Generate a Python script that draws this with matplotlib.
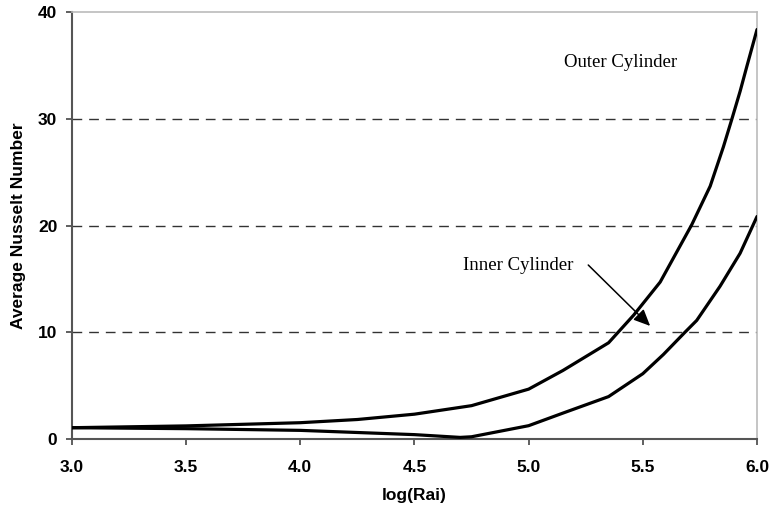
import matplotlib
matplotlib.use("Agg")
import matplotlib.pyplot as plt

# Data
outer_x = [3.0, 3.5, 4.0, 4.25, 4.5, 4.75, 5.0, 5.15, 5.35, 5.46, 5.576, 5.714,
           5.795, 5.853, 5.89, 5.926, 5.955, 6.0]
outer_y = [1.03, 1.2, 1.5, 1.8, 2.3, 3.1, 4.65, 6.4, 9.0, 11.6, 14.7, 20.07,
           23.7, 27.4, 30.0, 32.6, 34.9, 38.4]
inner_x = [3.0, 3.5, 4.0, 4.5, 4.7, 4.75, 5.0, 5.15, 5.35, 5.5, 5.59, 5.685, 5.736,
           5.838, 5.926, 6.0]
inner_y = [1.03, 0.94, 0.78, 0.38, 0.12, 0.18, 1.22, 2.4, 3.95, 6.1, 7.9, 10.0, 11.1,
           14.3, 17.4, 20.85]

x_ticks = [3.0, 3.5, 4.0, 4.5, 5.0, 5.5, 6.0]
x_ticklabels = ["3.0", "3.5", "4.0", "4.5", "5.0", "5.5", "6.0"]
y_ticks = [0, 10, 20, 30, 40]
y_ticklabels = ["0", "10", "20", "30", "40"]
grid_levels = [10, 20, 30]

fig = plt.figure(figsize=(7.73, 5.12), dpi=100)
ax = fig.add_axes([0.0931, 0.1432, 0.9793 - 0.0931, 0.9756 - 0.1432])

for g in grid_levels:
    ax.axhline(g, color="#333333", lw=1.0, dashes=(7, 5), zorder=1)

ax.plot(outer_x, outer_y, color="black", lw=2.3, zorder=3,
        solid_joinstyle="round", solid_capstyle="round")
ax.plot(inner_x, inner_y, color="black", lw=2.3, zorder=3,
        solid_joinstyle="round", solid_capstyle="round")

ax.set_xlim(3.0, 6.0)
ax.set_ylim(0, 40)
ax.set_xticks(x_ticks)
ax.set_xticklabels(x_ticklabels)
ax.set_yticks(y_ticks)
ax.set_yticklabels(y_ticklabels)

for lab in ax.get_xticklabels() + ax.get_yticklabels():
    lab.set_fontfamily("Liberation Sans")
    lab.set_fontweight("bold")
    lab.set_fontsize(12.5)

ax.tick_params(axis="x", direction="out", length=4.5, width=1.2, color="#444444", pad=11)
ax.tick_params(axis="y", direction="out", length=4.5, width=1.2, color="#444444", pad=6)

for s in ["left", "bottom"]:
    ax.spines[s].set_color("#555555")
    ax.spines[s].set_linewidth(1.5)
for s in ["top", "right"]:
    ax.spines[s].set_color("#bbbbbb")
    ax.spines[s].set_linewidth(1.2)

ax.set_xlabel("log(Rai)", fontfamily="Liberation Sans", fontweight="bold", fontsize=12.5, labelpad=9)
ax.set_ylabel("Average Nusselt Number", fontfamily="Liberation Sans", fontweight="bold",
              fontsize=12.5, labelpad=9)

ax.text(5.155, 35.3, "Outer Cylinder", fontfamily="Liberation Serif", fontsize=13.5,
        ha="left", va="center", zorder=4)
ax.text(4.713, 16.24, "Inner Cylinder", fontfamily="Liberation Serif", fontsize=13.5,
        ha="left", va="center", zorder=4)
ax.annotate("", xy=(5.532, 10.58), xytext=(5.261, 16.3),
            arrowprops=dict(arrowstyle="-|>,head_length=1.0,head_width=0.45",
                            color="black", lw=1.1, shrinkA=0, shrinkB=0), zorder=4)

fig.savefig("out.png", dpi=100)
